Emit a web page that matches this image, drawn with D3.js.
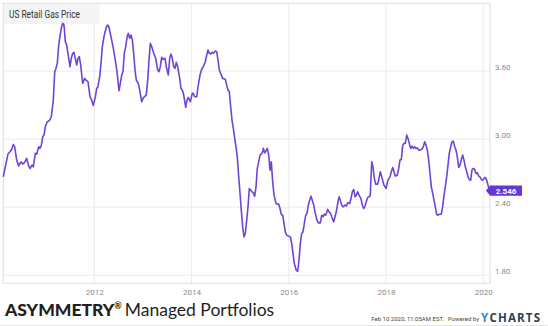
<!DOCTYPE html>
<html>
<head>
<meta charset="utf-8">
<script src="https://cdn.jsdelivr.net/npm/d3@7"></script>
<style>
  body { margin: 0; background: #fff; }
  svg { display: block; font-family: Roboto, "Noto Sans", sans-serif; }
</style>
</head>
<body>
<svg id="chart" width="548" height="326"></svg>
<script>
// US retail gasoline price, $/gal (dates as decimal years)
const chartTitle = "US Retail Gas Price";
const dates = [
  2010.128,2010.184,2010.225,2010.266,2010.301,2010.334,2010.363,2010.404,2010.445,2010.472,2010.499,2010.527,2010.569,2010.610,2010.651,2010.678,2010.719,2010.745,2010.787,2010.815,2010.857,2010.883,2010.910,2010.939,2010.966,2010.992,
  2011.033,2011.075,2011.116,2011.157,2011.186,2011.212,2011.239,2011.268,2011.295,2011.321,2011.350,2011.377,2011.404,2011.432,2011.474,2011.500,2011.527,2011.556,2011.583,2011.609,2011.638,2011.665,2011.692,2011.720,2011.761,2011.803,2011.829,2011.870,2011.912,2011.938,2011.979,
  2012.021,2012.049,2012.070,2012.111,2012.138,2012.165,2012.206,2012.247,2012.276,2012.302,2012.343,2012.385,2012.426,2012.467,2012.508,2012.535,2012.564,2012.590,2012.617,2012.646,2012.673,2012.699,2012.728,2012.755,2012.782,2012.810,2012.837,2012.864,2012.905,2012.934,2012.975,
  2013.002,2013.028,2013.069,2013.098,2013.125,2013.152,2013.181,2013.222,2013.263,2013.304,2013.331,2013.357,2013.386,2013.413,2013.454,2013.481,2013.522,2013.551,2013.577,2013.604,2013.633,2013.660,2013.686,2013.715,2013.756,2013.783,2013.810,2013.839,2013.880,2013.906,2013.933,2013.974,
  2014.015,2014.036,2014.065,2014.106,2014.133,2014.174,2014.215,2014.242,2014.283,2014.312,2014.338,2014.365,2014.394,2014.421,2014.447,2014.489,2014.517,2014.544,2014.571,2014.612,2014.641,2014.694,2014.723,2014.750,2014.776,2014.805,2014.832,2014.859,2014.888,2014.914,2014.941,2014.970,2014.997,
  2015.023,2015.052,2015.079,2015.106,2015.134,2015.161,2015.188,2015.217,2015.243,2015.270,2015.299,2015.326,2015.352,2015.381,2015.408,2015.435,2015.463,2015.476,2015.505,2015.531,2015.558,2015.587,2015.614,2015.640,2015.669,2015.696,2015.737,2015.764,2015.792,2015.819,2015.846,2015.875,2015.901,2015.928,2015.957,2015.990,
  2016.031,2016.060,2016.087,2016.113,2016.154,2016.183,2016.210,2016.237,2016.265,2016.292,2016.319,2016.348,2016.374,2016.401,2016.430,2016.457,2016.483,2016.512,2016.539,2016.580,2016.607,2016.648,2016.677,2016.703,2016.730,2016.759,2016.800,2016.827,2016.854,2016.882,2016.924,2016.950,2016.977,
  2017.006,2017.033,2017.059,2017.088,2017.115,2017.156,2017.183,2017.211,2017.253,2017.279,2017.306,2017.335,2017.362,2017.388,2017.417,2017.444,2017.485,2017.512,2017.541,2017.567,2017.594,2017.623,2017.650,2017.676,2017.705,2017.732,2017.759,2017.787,2017.828,2017.855,2017.882,2017.911,2017.958,2017.999,
  2018.040,2018.081,2018.108,2018.137,2018.164,2018.190,2018.232,2018.260,2018.287,2018.314,2018.343,2018.369,2018.396,2018.425,2018.452,2018.478,2018.507,2018.534,2018.561,2018.589,2018.616,2018.643,2018.672,2018.698,2018.740,2018.766,2018.795,2018.822,2018.849,2018.877,2018.904,2018.931,2018.960,2018.986,
  2019.013,2019.042,2019.069,2019.095,2019.136,2019.165,2019.192,2019.219,2019.247,2019.274,2019.301,2019.330,2019.357,2019.383,2019.412,2019.439,2019.466,2019.494,2019.521,2019.548,2019.577,2019.603,2019.630,2019.659,2019.686,2019.712,2019.741,2019.768,2019.795,2019.823,2019.850,2019.877,2019.906,2019.932,2019.959,2019.988,
  2020.015,2020.041,2020.070,2020.097,2020.124,2020.138
];
const prices = [
  2.667,2.786,2.868,2.888,2.909,2.953,2.932,2.815,2.764,2.786,2.800,2.780,2.795,2.830,2.764,2.740,2.770,2.756,2.874,2.868,2.932,2.918,2.944,3.020,3.035,3.109,
  3.153,3.161,3.197,3.344,3.594,3.624,3.668,3.829,3.909,3.977,4.021,4.006,3.859,3.829,3.712,3.638,3.712,3.756,3.765,3.712,3.653,3.712,3.726,3.653,3.491,3.535,3.520,3.506,3.373,3.353,3.297,
  3.370,3.447,3.456,3.550,3.668,3.815,3.918,3.986,4.006,3.986,3.903,3.815,3.712,3.594,3.426,3.491,3.565,3.594,3.756,3.815,3.897,3.933,3.889,3.918,3.874,3.756,3.609,3.520,3.491,3.432,3.329,
  3.359,3.373,3.388,3.520,3.697,3.844,3.815,3.756,3.712,3.609,3.594,3.638,3.721,3.703,3.712,3.638,3.565,3.712,3.750,3.712,3.638,3.624,3.677,3.638,3.535,3.447,3.432,3.388,3.279,3.344,3.368,3.329,
  3.403,3.403,3.373,3.373,3.461,3.565,3.624,3.638,3.682,3.741,3.785,3.756,3.750,3.765,3.756,3.776,3.770,3.697,3.609,3.565,3.535,3.527,3.476,3.432,3.417,3.285,3.168,3.094,3.006,2.932,2.844,2.667,2.521,
  2.373,2.226,2.138,2.168,2.285,2.403,2.565,2.550,2.535,2.526,2.497,2.579,2.741,2.800,2.859,2.868,2.888,2.918,2.879,2.897,2.918,2.859,2.726,2.800,2.623,2.506,2.433,2.427,2.427,2.388,2.335,2.329,2.256,2.182,2.153,2.147,
  2.138,2.079,1.991,1.903,1.844,1.835,1.932,2.079,2.168,2.182,2.256,2.329,2.344,2.418,2.462,2.497,2.462,2.418,2.359,2.285,2.262,2.262,2.329,2.315,2.338,2.329,2.380,2.359,2.350,2.315,2.270,2.315,2.359,
  2.433,2.491,2.462,2.418,2.403,2.418,2.410,2.438,2.433,2.476,2.535,2.556,2.491,2.506,2.535,2.506,2.476,2.418,2.388,2.410,2.447,2.485,2.491,2.506,2.800,2.756,2.653,2.603,2.603,2.653,2.712,2.667,2.594,2.565,
  2.638,2.667,2.712,2.750,2.712,2.674,2.682,2.741,2.815,2.820,2.947,2.962,2.962,3.035,3.006,2.962,2.918,2.938,2.918,2.932,2.918,2.923,2.903,2.903,2.912,2.932,2.976,2.947,2.903,2.815,2.697,2.579,2.521,2.462,
  2.403,2.335,2.329,2.338,2.338,2.403,2.506,2.579,2.667,2.770,2.874,2.932,2.976,2.982,2.932,2.903,2.844,2.750,2.770,2.820,2.859,2.815,2.756,2.712,2.667,2.644,2.638,2.732,2.741,2.732,2.697,2.703,2.674,2.667,2.644,2.638,
  2.653,2.662,2.638,2.594,2.556,2.546
];
const yTickValues = [1.80, 2.40, 3.00, 3.60];
const xTickValues = [2012, 2014, 2016, 2018, 2020];
const lastPrice = 2.546;
const timestamp = "Feb 10 2020, 11:05AM EST.";

const purple = "#6d44d8";
const gridColor = "#ececec";

const svg = d3.select("#chart");
const plot = { left: 3.3, right: 490, top: 3.3, bottom: 283.3 };

const x = d3.scaleLinear().domain([2010.1285, 2020.138]).range([plot.left, plot.right]);
const y = d3.scaleLinear().domain([1.729, 4.197]).range([plot.bottom, plot.top]);

// grid
svg.append("g").selectAll("line").data(yTickValues).join("line")
  .attr("x1", plot.left).attr("x2", plot.right)
  .attr("y1", d => y(d)).attr("y2", d => y(d))
  .attr("stroke", gridColor).attr("stroke-width", 1);
svg.append("g").selectAll("line").data(xTickValues).join("line")
  .attr("x1", d => x(d)).attr("x2", d => x(d))
  .attr("y1", plot.top).attr("y2", plot.bottom)
  .attr("stroke", gridColor).attr("stroke-width", 1);

// plot frame
svg.append("rect")
  .attr("x", plot.left).attr("y", plot.top)
  .attr("width", plot.right - plot.left).attr("height", plot.bottom - plot.top)
  .attr("fill", "none").attr("stroke", "#dedede").attr("stroke-width", 1);

// title box
svg.append("rect").attr("x", 3.8).attr("y", 3.8).attr("width", 95.5).attr("height", 20.5).attr("fill", "#f4f4f4");
svg.append("text").attr("x", 9).attr("y", 18.3)
  .attr("font-size", 10).attr("fill", "#333")
  .attr("textLength", 71).attr("lengthAdjust", "spacingAndGlyphs")
  .text(chartTitle);

// axes
const yAxis = svg.append("g")
  .attr("transform", `translate(${plot.right},0)`)
  .call(d3.axisRight(y).tickValues(yTickValues).tickFormat(d3.format(".2f")).tickSize(0).tickPadding(5));
yAxis.select(".domain").remove();
yAxis.selectAll("text").attr("dy", "-1.5px").attr("font-size", 8).attr("fill", "#8a8a8a")
  .attr("font-family", "Roboto, sans-serif");

const xAxis = svg.append("g")
  .attr("transform", `translate(0,${plot.bottom})`)
  .call(d3.axisBottom(x).tickValues(xTickValues).tickFormat(d3.format("d")).tickSize(0).tickPadding(6.5));
xAxis.select(".domain").remove();
xAxis.selectAll("text").attr("font-size", 8).attr("fill", "#8a8a8a")
  .attr("font-family", "Roboto, sans-serif");

// price line
const series = dates.map((d, i) => ({ t: d, v: prices[i] }));
svg.append("path")
  .datum(series)
  .attr("fill", "none")
  .attr("stroke", purple)
  .attr("stroke-width", 1.6)
  .attr("stroke-linejoin", "round")
  .attr("d", d3.line().x(d => x(d.t)).y(d => y(d.v)));

// last value badge
const ly = y(lastPrice);
const bx = plot.right;
svg.append("path")
  .attr("d", `M${bx - 4},${ly} L${bx},${ly - 5.2} L${bx + 32},${ly - 5.2} L${bx + 32},${ly + 5.2} L${bx},${ly + 5.2} Z`)
  .attr("fill", "#6539d1");
svg.append("text")
  .attr("x", bx + 16).attr("y", ly + 3)
  .attr("text-anchor", "middle")
  .attr("font-size", 8).attr("font-weight", 700).attr("fill", "#fff")
  .text(lastPrice.toFixed(3));

// footer: brand
const brand = svg.append("text").attr("x", 5).attr("y", 316).attr("fill", "#231f20")
  .attr("font-family", "Lato, 'Open Sans', sans-serif");
brand.append("tspan").attr("font-size", 17.5).attr("font-weight", 900).text("ASYMMETRY");
brand.append("tspan").attr("font-size", 9).attr("font-weight", 700).attr("dy", -7).text("®");
brand.append("tspan").attr("font-size", 17.5).attr("font-weight", 400).attr("dy", 7).attr("dx", 3).text("Managed Portfolios");

// footer: source stamp
svg.append("text").attr("x", 444).attr("y", 321).attr("text-anchor", "end")
  .attr("font-size", 6).attr("fill", "#444")
  .text(timestamp);
svg.append("text").attr("x", 479).attr("y", 321).attr("text-anchor", "end")
  .attr("font-size", 6).attr("fill", "#444")
  .text("Powered by");
const yc = svg.append("text").attr("x", 481).attr("y", 321.5)
  .attr("font-size", 11.5).attr("font-weight", 700).attr("letter-spacing", 1.2)
  .attr("font-family", "'Open Sans', sans-serif");
yc.append("tspan").attr("fill", "#2d8ad8").text("Y");
yc.append("tspan").attr("fill", "#2c3e56").text("CHARTS");

// bottom rule
svg.append("line").attr("x1", 0).attr("x2", 548).attr("y1", 325.5).attr("y2", 325.5)
  .attr("stroke", "#e6e6e6");
</script>
</body>
</html>
